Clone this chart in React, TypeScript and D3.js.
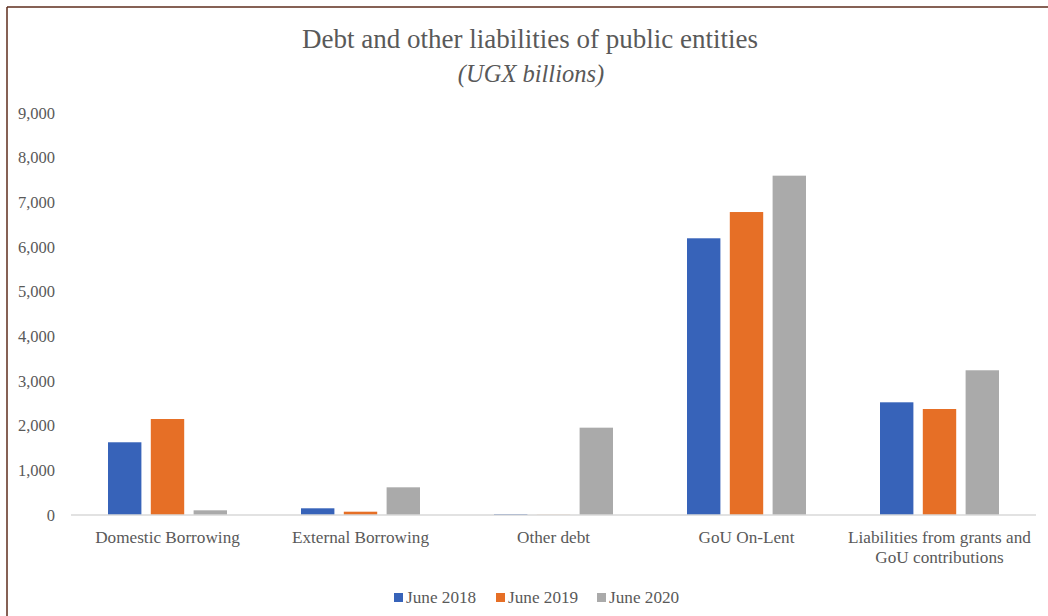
import React from "react";
import * as d3 from "d3";

const categories = [
  ["Domestic Borrowing"],
  ["External Borrowing"],
  ["Other debt"],
  ["GoU On-Lent"],
  ["Liabilities from grants and", "GoU contributions"],
];
const seriesNames = ["June 2018", "June 2019", "June 2020"];
const june2018 = [1628, 150, 20, 6195, 2523];
const june2019 = [2149, 74, 4, 6783, 2373];
const june2020 = [105, 620, 1955, 7597, 3240];
const yTicks = [0, 1000, 2000, 3000, 4000, 5000, 6000, 7000, 8000, 9000];
const colors = ["#3763b9", "#e66f26", "#aaaaaa"];

const W = 1048;
const H = 616;
const left = 71;
const right = 1036;
const top = 113;
const bottom = 515;
const font = "'Liberation Serif', 'DejaVu Serif', serif";
const textColor = "#595959";

export default function App() {
  const series = [june2018, june2019, june2020];
  const x = d3.scaleBand<number>().domain(d3.range(categories.length)).range([left, right]);
  const y = d3.scaleLinear().domain([0, 9000]).range([bottom, top]);
  const barW = 33.4;
  const step = 42.8;
  const fmt = d3.format(",");

  return (
    <div style={{ position: "fixed", left: 0, top: 0 }}>
      <svg width={W} height={H} style={{ display: "block", background: "#fff" }}>
        <line x1={7} y1={7} x2={W} y2={7} stroke="#5e2c1c" strokeWidth={1.5} />
        <line x1={7} y1={7} x2={7} y2={H} stroke="#5e2c1c" strokeWidth={1.5} />
        <text x={530} y={48} textAnchor="middle" fontFamily={font} fontSize={27} fill={textColor}>
          Debt and other liabilities of public entities
        </text>
        <text x={531} y={82} textAnchor="middle" fontFamily={font} fontSize={24.5} fontStyle="italic" fill={textColor}>
          (UGX billions)
        </text>
        {yTicks.map((t) => (
          <text key={t} x={55} y={y(t) + 5.5} textAnchor="end" fontFamily={font} fontSize={16.5} fill={textColor}>
            {fmt(t)}
          </text>
        ))}
        {categories.map((c, i) => {
          const cx = (x(i) as number) + x.bandwidth() / 2;
          return (
            <g key={i}>
              {series.map((s, k) => {
                const bx = cx + (k - 1) * step - barW / 2;
                return (
                  <rect
                    key={k}
                    x={bx}
                    y={y(s[i])}
                    width={barW}
                    height={bottom - y(s[i])}
                    fill={colors[k]}
                  />
                );
              })}
              {c.map((line, j) => (
                <text key={j} x={cx} y={543 + j * 20} textAnchor="middle" fontFamily={font} fontSize={17.2} fill={textColor}>
                  {line}
                </text>
              ))}
            </g>
          );
        })}
        <line x1={left} y1={bottom} x2={right} y2={bottom} stroke="#d9d9d9" strokeWidth={1.5} />
        {seriesNames.map((n, k) => {
          const lx = [394, 496, 597][k];
          return (
            <g key={n}>
              <rect x={lx} y={593} width={9} height={9} fill={colors[k]} />
              <text x={lx + 12} y={603} fontFamily={font} fontSize={17.2} fill={textColor}>
                {n}
              </text>
            </g>
          );
        })}
      </svg>
    </div>
  );
}
